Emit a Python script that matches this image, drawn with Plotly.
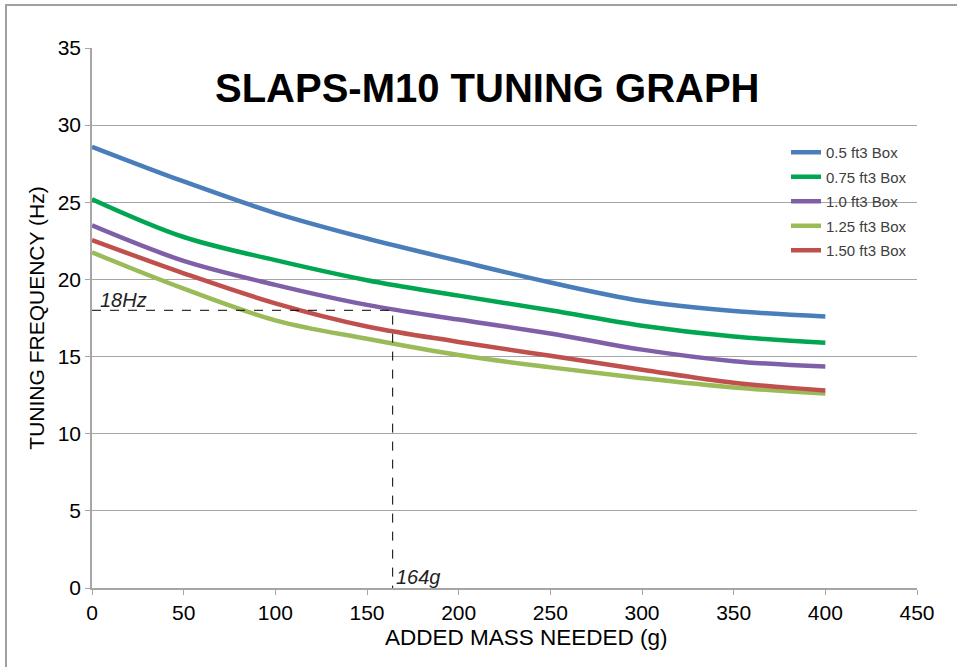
import plotly.graph_objects as go

# added mass (g) vs tuning frequency (Hz)
mass = [0, 50, 100, 150, 200, 250, 300, 350, 400]

box_05 = [28.6, 26.35, 24.3, 22.65, 21.2, 19.8, 18.6, 17.95, 17.6]
box_075 = [25.2, 22.75, 21.25, 19.95, 18.95, 18.0, 17.0, 16.3, 15.9]
box_10 = [23.5, 21.2, 19.65, 18.35, 17.4, 16.5, 15.45, 14.7, 14.35]
box_125 = [21.75, 19.4, 17.35, 16.15, 15.1, 14.3, 13.6, 13.0, 12.6]
box_150 = [22.55, 20.4, 18.45, 16.95, 15.95, 15.05, 14.15, 13.3, 12.8]

names = ["0.5 ft3 Box", "0.75 ft3 Box", "1.0 ft3 Box", "1.25 ft3 Box", "1.50 ft3 Box"]
series = [box_05, box_075, box_10, box_125, box_150]
colors = ["#4a7ebb", "#00a651", "#7f60a8", "#9bbb59", "#c0504d"]

target_hz = 18
target_mass = 164

fig = go.Figure()
for name, vals, col in zip(names, series, colors):
    fig.add_trace(go.Scatter(x=mass, y=vals, name=name, mode="lines", legendgroup=name,
                             line=dict(color=col, width=4.5, shape="spline", smoothing=1.0)))

# dashed guide lines for the worked example
fig.add_trace(go.Scatter(x=[0, target_mass, target_mass], y=[target_hz, target_hz, 0],
                         mode="lines", showlegend=False, hoverinfo="skip",
                         line=dict(color="black", width=1, dash="dash")))

fig.add_annotation(x=3, y=target_hz, text="<i>18Hz</i>", showarrow=False,
                   xanchor="left", yanchor="bottom", yshift=-3,
                   font=dict(size=20, color="#222"))
fig.add_annotation(x=target_mass, y=0, text="<i>164g</i>", showarrow=False,
                   xanchor="left", yanchor="bottom", xshift=1, yshift=-2,
                   font=dict(size=20, color="#222"))

fig.add_annotation(x=(487 - 92) / 825, y=(588 - 88) / 540, xref="paper", yref="paper",
                   text="<b>SLAPS-M10 TUNING GRAPH</b>", showarrow=False,
                   yanchor="middle",
                   font=dict(size=40, color="black", family="Liberation Sans, Arial"))

# x axis title sits a little right of the plot centre, as in the original
fig.add_annotation(x=(526 - 92) / 825, y=(588 - 637) / 540, xref="paper", yref="paper",
                   text="ADDED MASS NEEDED (g)", showarrow=False, yanchor="middle",
                   font=dict(size=22.5, color="black"))

# outer chart frame: only left and top edges are in view
fx0 = -86 / 825
fy1 = (588 - 5) / 540
fig.add_shape(type="path", xref="paper", yref="paper",
              path=f"M {fx0},-0.3 L {fx0},{fy1} L 1.2,{fy1}",
              line=dict(color="#a0a0a0", width=2))

axis_style = dict(showline=True, linecolor="#a6a6a6", linewidth=1.5,
                  ticks="outside", ticklen=5, tickcolor="#a6a6a6",
                  tickfont=dict(size=21, color="black"), zeroline=False,
                  automargin=False)

fig.update_xaxes(range=[0, 450], dtick=50, showgrid=False, **axis_style)
fig.update_yaxes(range=[0, 35], dtick=5, showgrid=True, gridcolor="#a6a6a6", gridwidth=1.2,
                 title=dict(text="TUNING FREQUENCY (Hz)", font=dict(size=21, color="black"), standoff=7),
                 **axis_style)

fig.update_layout(
    width=957, height=667,
    margin=dict(l=92, r=40, t=48, b=79, autoexpand=False),
    plot_bgcolor="white", paper_bgcolor="white",
    font=dict(family="Liberation Sans, Arial"),
    legend=dict(x=(786 - 92) / 825, y=(588 - 136) / 540, xanchor="left", yanchor="top",
                bgcolor="rgba(0,0,0,0)", font=dict(size=15, color="#404040"),
                tracegroupgap=2, itemwidth=30),
    showlegend=True,
)

# drop the default page margin so the figure sits at the window's corner
fig.write_html("out.html", config={"displayModeBar": False},
               post_script="document.body.style.margin='0';document.body.style.overflow='hidden';")
